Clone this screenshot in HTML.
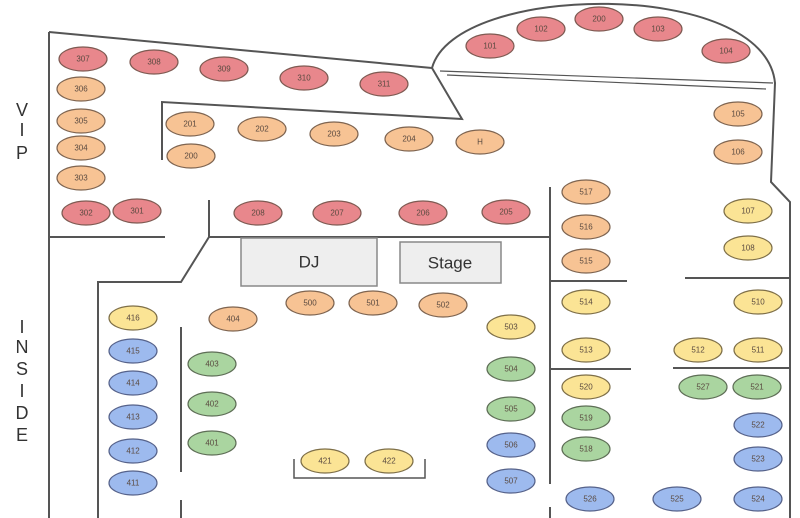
<!DOCTYPE html>
<html><head><style>
html,body{margin:0;padding:0;background:#fff;width:800px;height:518px;overflow:hidden}
svg{display:block}
text{font-family:"Liberation Sans",sans-serif}
.t text{font-size:8px;fill:#5a4a40;text-anchor:middle;dominant-baseline:central}
.r{fill:#e8878c;stroke:#7e5a52;stroke-width:1.2}
.o{fill:#f7c394;stroke:#7e6450;stroke-width:1.2}
.y{fill:#fbe495;stroke:#7e6f48;stroke-width:1.2}
.g{fill:#aad5a0;stroke:#5e6e56;stroke-width:1.2}
.b{fill:#9dbaee;stroke:#56628a;stroke-width:1.2}
.w{stroke:#555;stroke-width:2;fill:none}
.big{font-size:17px;fill:#333;text-anchor:middle;dominant-baseline:central}
</style></head><body>
<svg width="800" height="518" viewBox="0 0 800 518" xmlns="http://www.w3.org/2000/svg">
<g class="w">
<path d="M49,32 L432,68"/>
<path d="M49,32 L49,518"/>
<path d="M49,237 L165,237"/>
<path d="M162,160 L162,102 L462,119 L432,68"/>
<path d="M432,68 C455,-18 765,-22 775,83 L771,182 L790,202 L790,518"/>
<path d="M440,71 L773,83" stroke-width="1.2"/>
<path d="M447,75 L766,89" stroke-width="1.2"/>
<path d="M209,200 L209,237 L550,237"/>
<path d="M209,237 L181,282 L98,282 L98,518"/>
<path d="M550,187 L550,484"/>
<path d="M550,507 L550,518"/>
<path d="M550,281 L627,281"/>
<path d="M685,278 L790,278"/>
<path d="M550,369 L631,369"/>
<path d="M673,368 L790,368"/>
<path d="M181,327 L181,472"/>
<path d="M181,500 L181,518"/>
<path d="M294,459 L294,478 L425,478 L425,459" stroke-width="1.5"/>
</g>
<rect x="241" y="238" width="136" height="48" fill="#eee" stroke="#888" stroke-width="1.5"/>
<text class="big" x="309" y="262">DJ</text>
<rect x="400" y="242" width="101" height="41" fill="#eee" stroke="#888" stroke-width="1.5"/>
<text class="big" x="450" y="263">Stage</text>
<g class="big" style="font-size:18px">
<text x="22" y="110">V</text><text x="22" y="130">I</text><text x="22" y="153">P</text>
<text x="22" y="327">I</text><text x="22" y="347">N</text><text x="22" y="369">S</text><text x="22" y="391">I</text><text x="22" y="413">D</text><text x="22" y="435">E</text>
</g>
<g class="t">
<ellipse class="r" cx="83" cy="59" rx="24" ry="12"/><text x="83" y="59">307</text>
<ellipse class="r" cx="154" cy="62" rx="24" ry="12"/><text x="154" y="62">308</text>
<ellipse class="r" cx="224" cy="69" rx="24" ry="12"/><text x="224" y="69">309</text>
<ellipse class="r" cx="304" cy="78" rx="24" ry="12"/><text x="304" y="78">310</text>
<ellipse class="r" cx="384" cy="84" rx="24" ry="12"/><text x="384" y="84">311</text>
<ellipse class="r" cx="490" cy="46" rx="24" ry="12"/><text x="490" y="46">101</text>
<ellipse class="r" cx="541" cy="29" rx="24" ry="12"/><text x="541" y="29">102</text>
<ellipse class="r" cx="599" cy="19" rx="24" ry="12"/><text x="599" y="19">200</text>
<ellipse class="r" cx="658" cy="29" rx="24" ry="12"/><text x="658" y="29">103</text>
<ellipse class="r" cx="726" cy="51" rx="24" ry="12"/><text x="726" y="51">104</text>
<ellipse class="r" cx="86" cy="213" rx="24" ry="12"/><text x="86" y="213">302</text>
<ellipse class="r" cx="137" cy="211" rx="24" ry="12"/><text x="137" y="211">301</text>
<ellipse class="r" cx="258" cy="213" rx="24" ry="12"/><text x="258" y="213">208</text>
<ellipse class="r" cx="337" cy="213" rx="24" ry="12"/><text x="337" y="213">207</text>
<ellipse class="r" cx="423" cy="213" rx="24" ry="12"/><text x="423" y="213">206</text>
<ellipse class="r" cx="506" cy="212" rx="24" ry="12"/><text x="506" y="212">205</text>
<ellipse class="o" cx="81" cy="89" rx="24" ry="12"/><text x="81" y="89">306</text>
<ellipse class="o" cx="81" cy="121" rx="24" ry="12"/><text x="81" y="121">305</text>
<ellipse class="o" cx="81" cy="148" rx="24" ry="12"/><text x="81" y="148">304</text>
<ellipse class="o" cx="81" cy="178" rx="24" ry="12"/><text x="81" y="178">303</text>
<ellipse class="o" cx="190" cy="124" rx="24" ry="12"/><text x="190" y="124">201</text>
<ellipse class="o" cx="191" cy="156" rx="24" ry="12"/><text x="191" y="156">200</text>
<ellipse class="o" cx="262" cy="129" rx="24" ry="12"/><text x="262" y="129">202</text>
<ellipse class="o" cx="334" cy="134" rx="24" ry="12"/><text x="334" y="134">203</text>
<ellipse class="o" cx="409" cy="139" rx="24" ry="12"/><text x="409" y="139">204</text>
<ellipse class="o" cx="480" cy="142" rx="24" ry="12"/><text x="480" y="142">H</text>
<ellipse class="o" cx="738" cy="114" rx="24" ry="12"/><text x="738" y="114">105</text>
<ellipse class="o" cx="738" cy="152" rx="24" ry="12"/><text x="738" y="152">106</text>
<ellipse class="o" cx="586" cy="192" rx="24" ry="12"/><text x="586" y="192">517</text>
<ellipse class="o" cx="586" cy="227" rx="24" ry="12"/><text x="586" y="227">516</text>
<ellipse class="o" cx="586" cy="261" rx="24" ry="12"/><text x="586" y="261">515</text>
<ellipse class="o" cx="233" cy="319" rx="24" ry="12"/><text x="233" y="319">404</text>
<ellipse class="o" cx="310" cy="303" rx="24" ry="12"/><text x="310" y="303">500</text>
<ellipse class="o" cx="373" cy="303" rx="24" ry="12"/><text x="373" y="303">501</text>
<ellipse class="o" cx="443" cy="305" rx="24" ry="12"/><text x="443" y="305">502</text>
<ellipse class="y" cx="748" cy="211" rx="24" ry="12"/><text x="748" y="211">107</text>
<ellipse class="y" cx="748" cy="248" rx="24" ry="12"/><text x="748" y="248">108</text>
<ellipse class="y" cx="586" cy="302" rx="24" ry="12"/><text x="586" y="302">514</text>
<ellipse class="y" cx="758" cy="302" rx="24" ry="12"/><text x="758" y="302">510</text>
<ellipse class="y" cx="586" cy="350" rx="24" ry="12"/><text x="586" y="350">513</text>
<ellipse class="y" cx="698" cy="350" rx="24" ry="12"/><text x="698" y="350">512</text>
<ellipse class="y" cx="758" cy="350" rx="24" ry="12"/><text x="758" y="350">511</text>
<ellipse class="y" cx="586" cy="387" rx="24" ry="12"/><text x="586" y="387">520</text>
<ellipse class="y" cx="511" cy="327" rx="24" ry="12"/><text x="511" y="327">503</text>
<ellipse class="y" cx="133" cy="318" rx="24" ry="12"/><text x="133" y="318">416</text>
<ellipse class="y" cx="325" cy="461" rx="24" ry="12"/><text x="325" y="461">421</text>
<ellipse class="y" cx="389" cy="461" rx="24" ry="12"/><text x="389" y="461">422</text>
<ellipse class="g" cx="212" cy="364" rx="24" ry="12"/><text x="212" y="364">403</text>
<ellipse class="g" cx="212" cy="404" rx="24" ry="12"/><text x="212" y="404">402</text>
<ellipse class="g" cx="212" cy="443" rx="24" ry="12"/><text x="212" y="443">401</text>
<ellipse class="g" cx="511" cy="369" rx="24" ry="12"/><text x="511" y="369">504</text>
<ellipse class="g" cx="511" cy="409" rx="24" ry="12"/><text x="511" y="409">505</text>
<ellipse class="g" cx="703" cy="387" rx="24" ry="12"/><text x="703" y="387">527</text>
<ellipse class="g" cx="757" cy="387" rx="24" ry="12"/><text x="757" y="387">521</text>
<ellipse class="g" cx="586" cy="418" rx="24" ry="12"/><text x="586" y="418">519</text>
<ellipse class="g" cx="586" cy="449" rx="24" ry="12"/><text x="586" y="449">518</text>
<ellipse class="b" cx="133" cy="351" rx="24" ry="12"/><text x="133" y="351">415</text>
<ellipse class="b" cx="133" cy="383" rx="24" ry="12"/><text x="133" y="383">414</text>
<ellipse class="b" cx="133" cy="417" rx="24" ry="12"/><text x="133" y="417">413</text>
<ellipse class="b" cx="133" cy="451" rx="24" ry="12"/><text x="133" y="451">412</text>
<ellipse class="b" cx="133" cy="483" rx="24" ry="12"/><text x="133" y="483">411</text>
<ellipse class="b" cx="511" cy="445" rx="24" ry="12"/><text x="511" y="445">506</text>
<ellipse class="b" cx="511" cy="481" rx="24" ry="12"/><text x="511" y="481">507</text>
<ellipse class="b" cx="758" cy="425" rx="24" ry="12"/><text x="758" y="425">522</text>
<ellipse class="b" cx="758" cy="459" rx="24" ry="12"/><text x="758" y="459">523</text>
<ellipse class="b" cx="590" cy="499" rx="24" ry="12"/><text x="590" y="499">526</text>
<ellipse class="b" cx="677" cy="499" rx="24" ry="12"/><text x="677" y="499">525</text>
<ellipse class="b" cx="758" cy="499" rx="24" ry="12"/><text x="758" y="499">524</text>
</g>
</svg>
</body></html>
